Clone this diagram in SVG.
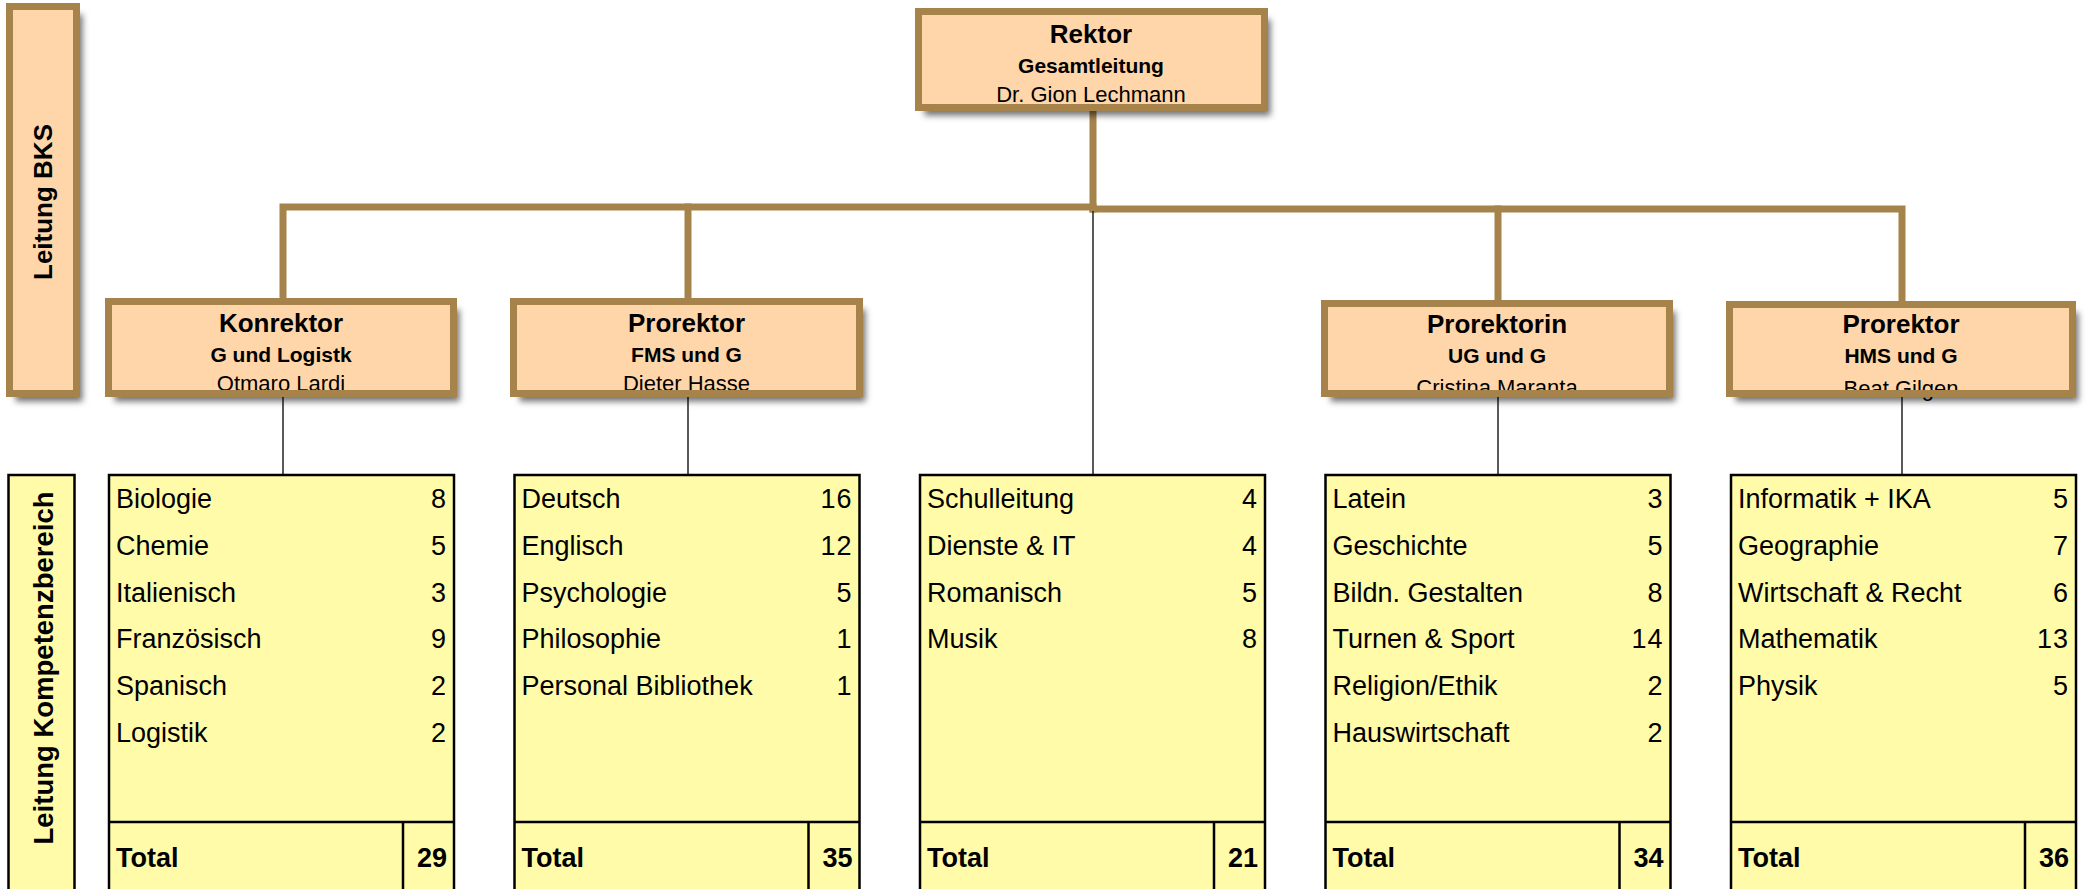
<svg xmlns="http://www.w3.org/2000/svg" width="2087" height="889" viewBox="0 0 2087 889">
<style>
.box{fill:#FFD6A9;}
.bord{fill:none;stroke:#A5834B;stroke-width:7;}
.tbl{fill:#FFFBA9;stroke:#000;stroke-width:2.5;}
.sep{stroke:#000;stroke-width:2.5;fill:none;}
.thick{fill:none;stroke:#A5834B;stroke-width:7;stroke-linecap:square;}
.thin{fill:none;stroke:#222;stroke-width:1.5;}
text{font-family:"Liberation Sans",Arial,sans-serif;fill:#000;}
.t1{font-size:26px;font-weight:bold;text-anchor:middle;}
.t2{font-size:21px;font-weight:bold;text-anchor:middle;}
.t3{font-size:22px;text-anchor:middle;}
.side{font-size:26px;font-weight:bold;text-anchor:middle;}
.side2{font-size:27.5px;font-weight:bold;text-anchor:middle;}
.row{font-size:27px;}
.num{font-size:27px;text-anchor:end;letter-spacing:1px;}
.tot{font-size:27px;font-weight:bold;}
.totn{font-size:27px;font-weight:bold;text-anchor:end;}
</style>
<defs>
<filter id="sh" x="-10%" y="-10%" width="130%" height="140%">
<feDropShadow dx="6" dy="8" stdDeviation="3" flood-color="#000" flood-opacity="0.55"/>
</filter>
</defs>

<g id="connectors">
<path class="thick" d="M1093,111 V209"/>
<path class="thick" d="M283,298 V207 H1093"/>
<path class="thick" d="M688,298 V207"/>
<path class="thick" d="M1093,209 H1902 V301"/>
<path class="thick" d="M1498,300 V209"/>
<path class="thin" d="M283,397 V475"/>
<path class="thin" d="M688,397 V475"/>
<path class="thin" d="M1093,211 V475"/>
<path class="thin" d="M1498,397 V475"/>
<path class="thin" d="M1902,397 V475"/>
</g>

<g id="leitung-bks">
<rect x="9.5" y="6.5" width="67" height="387" class="box" filter="url(#sh)"/>
<rect x="9.5" y="6.5" width="67" height="387" class="bord"/>
<text class="side" transform="translate(52,202) rotate(-90)">Leitung BKS</text>
</g>

<g id="rektor">
<rect x="918.5" y="11.5" width="346" height="96" class="box" filter="url(#sh)"/>
<text class="t1" x="1091" y="43">Rektor</text>
<text class="t2" x="1091" y="73">Gesamtleitung</text>
<text class="t3" x="1091" y="102">Dr. Gion Lechmann</text>
<rect x="918.5" y="11.5" width="346" height="96" class="bord"/>
</g>

<g id="konrektor">
<rect x="108.5" y="301.5" width="345" height="92" class="box" filter="url(#sh)"/>
<text class="t1" x="281" y="332">Konrektor</text>
<text class="t2" x="281" y="362">G und Logistk</text>
<text class="t3" x="281" y="391">Otmaro Lardi</text>
<rect x="108.5" y="301.5" width="345" height="92" class="bord"/>
</g>

<g id="prorektor-fms">
<rect x="513.5" y="301.5" width="346" height="92" class="box" filter="url(#sh)"/>
<text class="t1" x="686.5" y="332">Prorektor</text>
<text class="t2" x="686.5" y="362">FMS und G</text>
<text class="t3" x="686.5" y="391">Dieter Hasse</text>
<rect x="513.5" y="301.5" width="346" height="92" class="bord"/>
</g>

<g id="prorektorin-ug">
<rect x="1324.5" y="303.5" width="345" height="90" class="box" filter="url(#sh)"/>
<text class="t1" x="1497" y="333">Prorektorin</text>
<text class="t2" x="1497" y="363">UG und G</text>
<text class="t3" x="1497" y="395">Cristina Maranta</text>
<rect x="1324.5" y="303.5" width="345" height="90" class="bord"/>
</g>

<g id="prorektor-hms">
<rect x="1729.5" y="304.5" width="343" height="89" class="box" filter="url(#sh)"/>
<text class="t1" x="1901" y="333">Prorektor</text>
<text class="t2" x="1901" y="363">HMS und G</text>
<text class="t3" x="1901" y="396">Beat Gilgen</text>
<rect x="1729.5" y="304.5" width="343" height="89" class="bord"/>
</g>

<g id="leitung-kompetenzbereich">
<rect x="8.5" y="475" width="66" height="420" class="tbl"/>
<text class="side2" transform="translate(52.5,668) rotate(-90)">Leitung Kompetenzbereich</text>
</g>

<g id="table-konrektor">
<rect x="109" y="475" width="345" height="420" class="tbl"/>
<path class="sep" d="M109,822 H454 M403,822 V895"/>
<text class="row" x="116" y="508">Biologie</text><text class="num" x="447" y="508">8</text>
<text class="row" x="116" y="555">Chemie</text><text class="num" x="447" y="555">5</text>
<text class="row" x="116" y="602">Italienisch</text><text class="num" x="447" y="602">3</text>
<text class="row" x="116" y="648">Französisch</text><text class="num" x="447" y="648">9</text>
<text class="row" x="116" y="695">Spanisch</text><text class="num" x="447" y="695">2</text>
<text class="row" x="116" y="742">Logistik</text><text class="num" x="447" y="742">2</text>
<text class="tot" x="116" y="867">Total</text><text class="totn" x="447" y="867">29</text>
</g>

<g id="table-fms">
<rect x="514.5" y="475" width="345" height="420" class="tbl"/>
<path class="sep" d="M514.5,822 H859.5 M808.5,822 V895"/>
<text class="row" x="521.5" y="508">Deutsch</text><text class="num" x="852.5" y="508">16</text>
<text class="row" x="521.5" y="555">Englisch</text><text class="num" x="852.5" y="555">12</text>
<text class="row" x="521.5" y="602">Psychologie</text><text class="num" x="852.5" y="602">5</text>
<text class="row" x="521.5" y="648">Philosophie</text><text class="num" x="852.5" y="648">1</text>
<text class="row" x="521.5" y="695">Personal Bibliothek</text><text class="num" x="852.5" y="695">1</text>
<text class="tot" x="521.5" y="867">Total</text><text class="totn" x="852.5" y="867">35</text>
</g>

<g id="table-rektor">
<rect x="920" y="475" width="345" height="420" class="tbl"/>
<path class="sep" d="M920,822 H1265 M1214,822 V895"/>
<text class="row" x="927" y="508">Schulleitung</text><text class="num" x="1258" y="508">4</text>
<text class="row" x="927" y="555">Dienste &amp; IT</text><text class="num" x="1258" y="555">4</text>
<text class="row" x="927" y="602">Romanisch</text><text class="num" x="1258" y="602">5</text>
<text class="row" x="927" y="648">Musik</text><text class="num" x="1258" y="648">8</text>
<text class="tot" x="927" y="867">Total</text><text class="totn" x="1258" y="867">21</text>
</g>

<g id="table-ug">
<rect x="1325.5" y="475" width="345" height="420" class="tbl"/>
<path class="sep" d="M1325.5,822 H1670.5 M1619.5,822 V895"/>
<text class="row" x="1332.5" y="508">Latein</text><text class="num" x="1663.5" y="508">3</text>
<text class="row" x="1332.5" y="555">Geschichte</text><text class="num" x="1663.5" y="555">5</text>
<text class="row" x="1332.5" y="602">Bildn. Gestalten</text><text class="num" x="1663.5" y="602">8</text>
<text class="row" x="1332.5" y="648">Turnen &amp; Sport</text><text class="num" x="1663.5" y="648">14</text>
<text class="row" x="1332.5" y="695">Religion/Ethik</text><text class="num" x="1663.5" y="695">2</text>
<text class="row" x="1332.5" y="742">Hauswirtschaft</text><text class="num" x="1663.5" y="742">2</text>
<text class="tot" x="1332.5" y="867">Total</text><text class="totn" x="1663.5" y="867">34</text>
</g>

<g id="table-hms">
<rect x="1731" y="475" width="345" height="420" class="tbl"/>
<path class="sep" d="M1731,822 H2076 M2025,822 V895"/>
<text class="row" x="1738" y="508">Informatik + IKA</text><text class="num" x="2069" y="508">5</text>
<text class="row" x="1738" y="555">Geographie</text><text class="num" x="2069" y="555">7</text>
<text class="row" x="1738" y="602">Wirtschaft &amp; Recht</text><text class="num" x="2069" y="602">6</text>
<text class="row" x="1738" y="648">Mathematik</text><text class="num" x="2069" y="648">13</text>
<text class="row" x="1738" y="695">Physik</text><text class="num" x="2069" y="695">5</text>
<text class="tot" x="1738" y="867">Total</text><text class="totn" x="2069" y="867">36</text>
</g>
</svg>
